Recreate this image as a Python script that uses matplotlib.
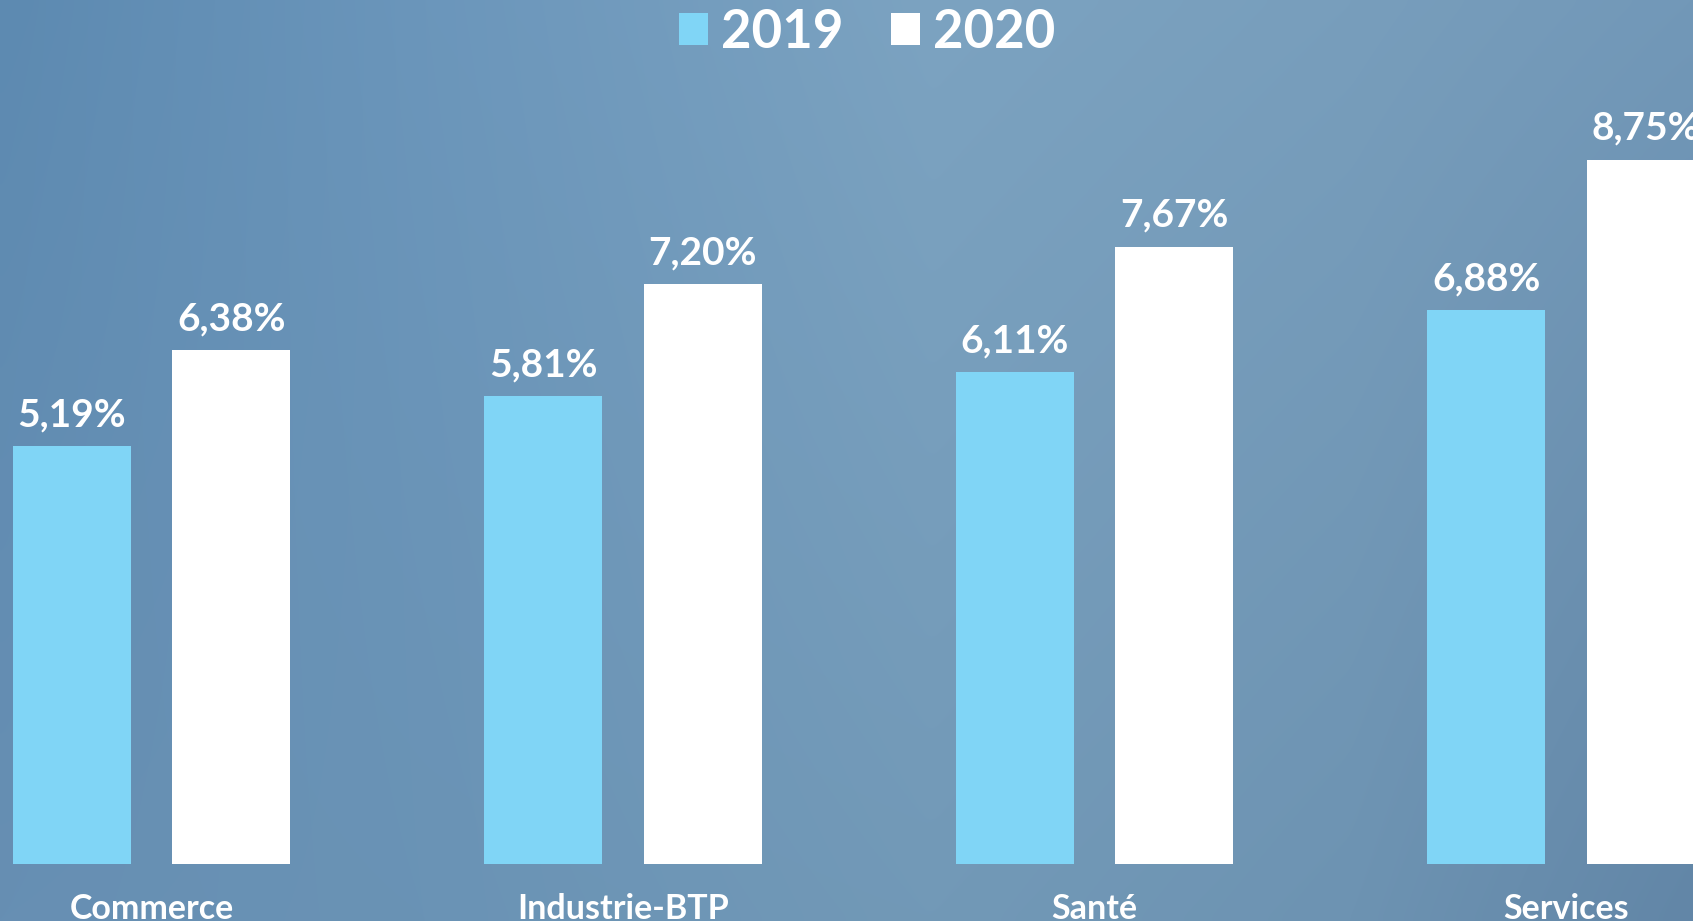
import numpy as np
import matplotlib
matplotlib.use("Agg")
import matplotlib.pyplot as plt
from matplotlib.colors import to_rgb
from matplotlib.patches import Patch

categories = ["Commerce", "Industrie-BTP", "Santé", "Services"]
series_names = ["2019", "2020"]
values_2019 = [5.19, 5.81, 6.11, 6.88]
values_2020 = [6.38, 7.20, 7.67, 8.75]
labels_2019 = ["5,19%", "5,81%", "6,11%", "6,88%"]
labels_2020 = ["6,38%", "7,20%", "7,67%", "8,75%"]

color_2019 = "#80d5f6"
color_2020 = "#ffffff"
FONT = ["Lato", "DejaVu Sans"]

W, H = 1693, 921
fig = plt.figure(figsize=(W / 100, H / 100), dpi=100)

# background gradient
bg = fig.add_axes([0, 0, 1, 1], zorder=0)
bg.set_axis_off()
nx, ny = 200, 110
xs = np.linspace(0, 1, nx)
ys = np.linspace(0, 1, ny)
stops_x = [0.0, 0.25, 0.55, 0.8, 1.0]
cols_top = [to_rgb(c) for c in ["#5d8ab1", "#6b96bb", "#7ca3c1", "#789ebc", "#7298b8"]]
cols_bot = [to_rgb(c) for c in ["#678fb3", "#6a93b5", "#7299b7", "#6d93b2", "#6286a7"]]
img = np.zeros((ny, nx, 3))
for k in range(3):
    top = np.interp(xs, stops_x, [c[k] for c in cols_top])
    bot = np.interp(xs, stops_x, [c[k] for c in cols_bot])
    img[:, :, k] = top[None, :] * (1 - ys[:, None]) + bot[None, :] * ys[:, None]
bg.imshow(img, aspect="auto", extent=[0, 1, 1, 0], interpolation="bicubic")
bg.set_xlim(0, 1)
bg.set_ylim(1, 0)

ax = fig.add_axes([0, 0, 1, 1], zorder=1)
ax.patch.set_alpha(0)
ax.set_axis_off()

px_per_group = 471.5
x0_px = 151.5
px_per_unit = 80.5
base_px = 864
ax.set_xlim((0 - x0_px) / px_per_group, (W - x0_px) / px_per_group)
ax.set_ylim((base_px - H) / px_per_unit, base_px / px_per_unit)

x = np.arange(len(categories))
bw = 118 / px_per_group
off = 79.75 / px_per_group
ax.bar(x - off, values_2019, width=bw, color=color_2019, zorder=2)
ax.bar(x + off, values_2020, width=bw, color=color_2020, zorder=2)

gap = 20 / px_per_unit
for xi, v, lab in zip(x - off, values_2019, labels_2019):
    ax.text(xi, v + gap, lab, ha="center", va="baseline", color="white",
            fontsize=28, fontweight="bold", family=FONT, clip_on=False)
for xi, v, lab in zip(x + off, values_2020, labels_2020):
    ax.text(xi, v + gap, lab, ha="center", va="baseline", color="white",
            fontsize=28, fontweight="bold", family=FONT, clip_on=False)

cat_y = (base_px - 919) / px_per_unit
for xi, c in zip(x, categories):
    ax.text(xi, cat_y, c, ha="center", va="baseline", color="white",
            fontsize=24.5, fontweight="bold", family=FONT, clip_on=False)

handles = [Patch(facecolor=color_2019, edgecolor="none"),
           Patch(facecolor=color_2020, edgecolor="none")]
leg = fig.legend(handles, series_names, loc="upper center",
                 bbox_to_anchor=(867 / W, 1.0 - 8 / H), ncol=2, frameon=False,
                 prop={"family": FONT, "size": 38, "weight": "bold"},
                 handlelength=0.55, handleheight=0.55, handletextpad=0.25,
                 columnspacing=0.9, borderaxespad=0.0, borderpad=0.0)
for t in leg.get_texts():
    t.set_color("white")

fig.savefig("out.png", dpi=100)
